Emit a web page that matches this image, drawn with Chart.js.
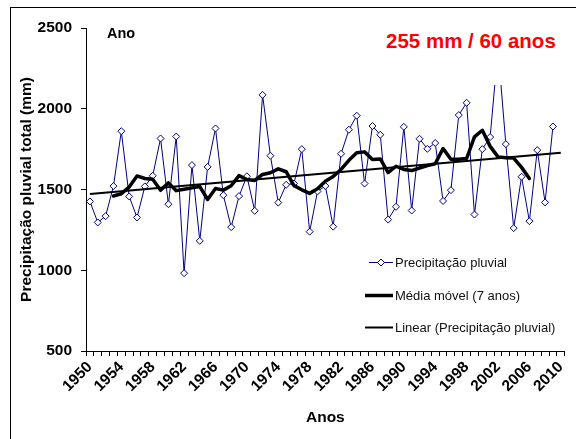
<!DOCTYPE html>
<html lang="pt">
<head>
<meta charset="utf-8">
<script src="https://cdn.jsdelivr.net/npm/chart.js@4.4.1/dist/chart.umd.min.js"></script>
<style>
  body { margin: 0; background: #fff; font-family: Arial, "Liberation Sans", sans-serif; }
  #wrap { position: relative; width: 576px; height: 439px; overflow: hidden; }
  #frame { position: absolute; left: 10px; top: 7px; width: 700px; height: 600px;
           border-left: 1px solid #000; border-top: 1px solid #000; }
  #chart { position: absolute; left: 0; top: 0; }
  #ano { position: absolute; left: 107px; top: 25px; font-weight: bold; font-size: 14.5px; color: #000; }
  #taxa { position: absolute; left: 380px; top: 29px; width: 186px; height: 56px; background: #fff;
          color: #ff0000; font-weight: bold; font-size: 20.5px; line-height: 24px; padding-left: 6px; box-sizing: border-box; }
  .leg { position: absolute; left: 395px; font-size: 13px; line-height: 15px; color: #111; white-space: nowrap; }
</style>
</head>
<body>
<div id="wrap">
  <div id="frame"></div>
  <canvas id="chart" width="576" height="439"></canvas>
  <div id="ano">Ano</div>
  <div id="taxa">255 mm / 60 anos</div>
  <div class="leg" style="top:255px">Precipitação pluvial</div>
  <div class="leg" style="top:288px">Média móvel (7 anos)</div>
  <div class="leg" style="top:320px">Linear (Precipitação pluvial)</div>
</div>
<script>
// precipitação pluvial anual (mm), 1950-2009; eixo vai até 2010
const anos = Array.from({ length: 61 }, (_, i) => String(1950 + i));

const precipitacao = [
  1426, 1296, 1335, 1521, 1861, 1457, 1327, 1519, 1585, 1816,
  1409, 1828, 982, 1651, 1182, 1640, 1878, 1465, 1267, 1459,
  1582, 1368, 2086, 1709, 1419, 1529, 1537, 1750, 1239, 1488,
  1522, 1270, 1721, 1870, 1957, 1537, 1893, 1839, 1314, 1393,
  1888, 1370, 1814, 1752, 1788, 1429, 1496, 1961, 2037, 1345,
  1750, 1825, 2370, 1781, 1261, 1579, 1304, 1744, 1420, 1890
];

// média móvel centrada de 7 anos, 1953-2006
const mediaInicio = 1953;
const mediaMovel = [
  1460, 1474, 1515, 1584, 1568, 1563, 1495, 1541, 1493, 1501,
  1510, 1518, 1438, 1506, 1496, 1523, 1586, 1562, 1556, 1593,
  1604, 1628, 1610, 1524, 1498, 1476, 1504, 1551, 1581, 1624,
  1681, 1727, 1733, 1686, 1689, 1605, 1644, 1624, 1617, 1633,
  1648, 1659, 1754, 1687, 1687, 1692, 1826, 1867, 1767, 1702,
  1696, 1695, 1637, 1568
];

// tendência linear (extremos)
const tendenciaAnos = ['1950', '2010'];
const tendenciaValores = [1472, 1727];

const yTicks = [500, 1000, 1500, 2000, 2500];

const navy = '#000080';
const axisFont = { family: 'Arial, "Liberation Sans"', size: 15.5, weight: 'bold' };

// amostras da legenda (linhas) desenhadas no canvas; os textos ficam em HTML
const legendMarks = {
  id: 'legendMarks',
  afterDraw(chart) {
    const ctx = chart.ctx;
    ctx.save();
    ctx.lineCap = 'butt';
    // precipitação
    ctx.strokeStyle = navy;
    ctx.lineWidth = 1;
    ctx.beginPath();
    ctx.moveTo(369, 262.5);
    ctx.lineTo(393, 262.5);
    ctx.stroke();
    ctx.fillStyle = '#fff';
    ctx.beginPath();
    ctx.moveTo(381, 259);
    ctx.lineTo(384.5, 262.5);
    ctx.lineTo(381, 266);
    ctx.lineTo(377.5, 262.5);
    ctx.closePath();
    ctx.fill();
    ctx.stroke();
    // média móvel
    ctx.strokeStyle = '#000';
    ctx.lineWidth = 3.5;
    ctx.beginPath();
    ctx.moveTo(365, 295.5);
    ctx.lineTo(393, 295.5);
    ctx.stroke();
    // linear
    ctx.lineWidth = 2;
    ctx.beginPath();
    ctx.moveTo(365, 327.5);
    ctx.lineTo(393, 327.5);
    ctx.stroke();
    ctx.restore();
  }
};

new Chart(document.getElementById('chart'), {
  type: 'line',
  data: {
    labels: anos,
    datasets: [
      {
        label: 'Linear (Precipitação pluvial)',
        data: tendenciaAnos.map((a, i) => ({ x: a, y: tendenciaValores[i] })),
        borderColor: '#000',
        borderWidth: 2,
        pointRadius: 0,
        order: 1
      },
      {
        label: 'Média móvel (7 anos)',
        data: mediaMovel.map((v, i) => ({ x: String(mediaInicio + i), y: v })),
        borderColor: '#000',
        borderWidth: 3.5,
        borderJoinStyle: 'round',
        borderCapStyle: 'round',
        pointRadius: 0,
        order: 2
      },
      {
        label: 'Precipitação pluvial',
        data: precipitacao,
        borderColor: navy,
        borderWidth: 1,
        pointStyle: 'rectRot',
        pointRadius: 3.5,
        pointBackgroundColor: '#fff',
        pointBorderColor: navy,
        pointBorderWidth: 1,
        order: 3
      }
    ]
  },
  options: {
    responsive: false,
    animation: false,
    layout: { padding: { top: 28, right: 8, left: 0, bottom: 0 } },
    plugins: {
      legend: { display: false },
      tooltip: { enabled: false }
    },
    scales: {
      x: {
        offset: true,
        afterFit: (scale) => { scale.height = 88; },
        grid: { offset: true, drawOnChartArea: false, tickLength: 5, color: '#000' },
        border: { color: '#000', width: 1 },
        ticks: {
          autoSkip: false,
          minRotation: 45,
          maxRotation: 45,
          padding: 2,
          color: '#000',
          font: axisFont,
          callback: function (value, index) {
            return index % 4 === 0 ? this.getLabelForValue(value) : '';
          }
        },
        title: {
          display: true,
          text: 'Anos',
          color: '#000',
          font: axisFont,
          padding: { top: 0, bottom: 12 }
        }
      },
      y: {
        min: yTicks[0],
        max: yTicks[yTicks.length - 1],
        afterFit: (scale) => { scale.width = 86; },
        afterBuildTicks: (scale) => { scale.ticks = yTicks.map(v => ({ value: v })); },
        grid: { drawOnChartArea: false, tickLength: 5, color: '#000' },
        border: { color: '#000', width: 1 },
        ticks: { padding: 9, color: '#000', font: axisFont, callback: (v) => String(v) },
        title: {
          display: true,
          text: 'Precipitação pluvial total (mm)',
          color: '#000',
          font: axisFont,
          padding: { top: 17, bottom: 0 }
        }
      }
    }
  },
  plugins: [legendMarks]
});
</script>
</body>
</html>
